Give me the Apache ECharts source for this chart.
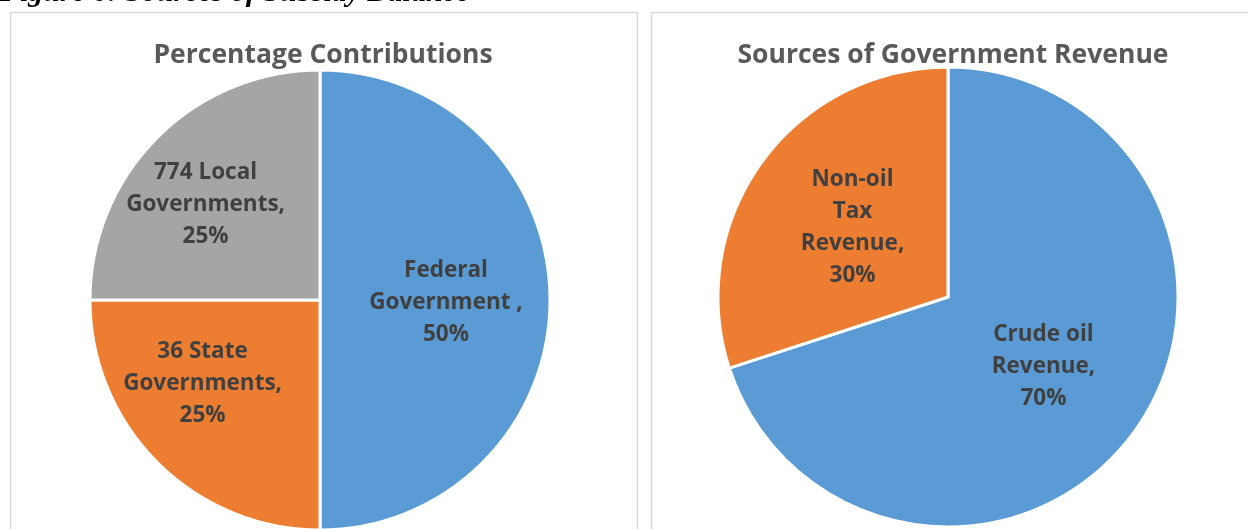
<!DOCTYPE html>
<html>
<head>
<meta charset="utf-8">
<script src="https://cdn.jsdelivr.net/npm/echarts@6/dist/echarts.min.js"></script>
<style>
  html, body { margin: 0; padding: 0; background: #fff; }
  #chart { width: 1248px; height: 529px; }
</style>
</head>
<body>
<div id="chart"></div>
<script>
// left pie: who pays the subsidy
var shareNames = ['Federal\nGovernment ', '36 State\nGovernments', '774 Local\nGovernments'];
var shareValues = [50, 25, 25];

// right pie: where government revenue comes from
var revenueNames = ['Crude oil\nRevenue', 'Non-oil\nTax\nRevenue'];
var revenueValues = [70, 30];

var pieColors = ['#5B9BD5', '#ED7D31', '#A5A5A5'];

// nudges for the label boxes (Excel "best fit" placement)
var shareLabelShift = [[8, 3], [-34, 0], [-31, -12]];

function toPieData(names, values) {
    var out = [];
    for (var i = 0; i < names.length; i++) {
        out.push({ name: names[i], value: values[i] });
    }
    return out;
}

var labelStyle = {
    show: true,
    position: 'inside',
    formatter: '{b},\n{c}%',
    color: '#404040',
    fontFamily: 'Open Sans',
    fontWeight: 'bold',
    fontSize: 22.5,
    lineHeight: 32
};

var titleStyle = { fontFamily: 'Open Sans', fontWeight: 'bold', fontSize: 26.5, color: '#595959' };

var myChart = echarts.init(document.getElementById('chart'));
var option = {
    animation: false,
    color: pieColors,
    title: [
        {
            text: 'Percentage Contributions',
            left: 318,
            top: 37,
            textAlign: 'center',
            textStyle: titleStyle
        },
        {
            text: 'Sources of Government Revenue',
            left: 948,
            top: 37,
            textAlign: 'center',
            textStyle: titleStyle
        }
    ],
    graphic: [
        {
            type: 'text',
            left: 0,
            top: -22,
            style: {
                text: 'Figure 6: Sources of Subsidy Balance',
                font: 'italic bold 30px "Liberation Serif"',
                fill: '#000'
            }
        },
        {
            type: 'rect',
            shape: { x: 10.5, y: 12.5, width: 627, height: 540 },
            style: { fill: 'none', stroke: '#D9D9D9', lineWidth: 1.5 }
        },
        {
            type: 'rect',
            shape: { x: 651.5, y: 12.5, width: 620, height: 540 },
            style: { fill: 'none', stroke: '#D9D9D9', lineWidth: 1.5 }
        }
    ],
    series: [
        {
            type: 'pie',
            center: [320, 300],
            radius: 230,
            startAngle: 90,
            clockwise: true,
            itemStyle: { borderColor: '#fff', borderWidth: 3 },
            label: labelStyle,
            labelLine: { show: false },
            emphasis: { disabled: true },
            labelLayout: function (params) {
                var s = shareLabelShift[params.dataIndex];
                return { dx: s[0], dy: s[1] };
            },
            data: toPieData(shareNames, shareValues)
        },
        {
            type: 'pie',
            center: [948, 297],
            radius: 230,
            startAngle: 90,
            clockwise: true,
            itemStyle: { borderColor: '#fff', borderWidth: 3 },
            label: labelStyle,
            labelLine: { show: false },
            emphasis: { disabled: true },
            data: toPieData(revenueNames, revenueValues)
        }
    ]
};
myChart.setOption(option);
</script>
</body>
</html>
